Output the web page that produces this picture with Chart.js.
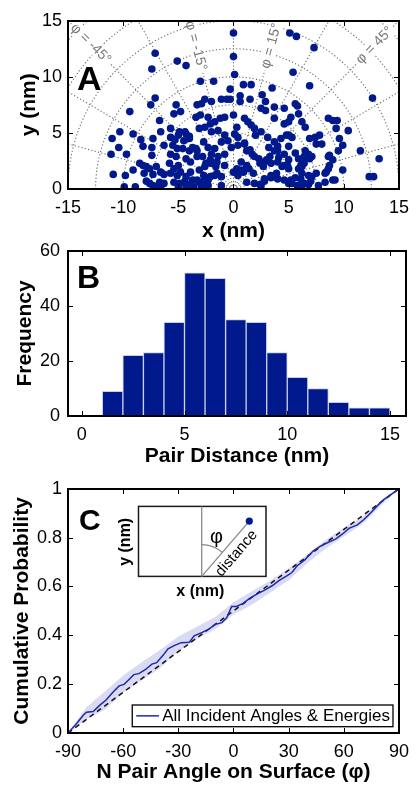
<!DOCTYPE html>
<html><head><meta charset="utf-8">
<script src="https://cdn.jsdelivr.net/npm/chart.js@4.4.1/dist/chart.umd.min.js"></script>
<style>
html,body{margin:0;padding:0;background:#fff;}
#wrap{position:relative;width:417px;height:785px;overflow:hidden;background:#fff;}
canvas{position:absolute;left:0;}
.fr{position:absolute;box-sizing:border-box;border:2px solid #000;pointer-events:none;}
.tk{position:absolute;background:#000;pointer-events:none;}
</style></head><body>
<div id="wrap">
<canvas id="cA" width="417" height="245" style="top:0px"></canvas>
<canvas id="cB" width="417" height="240" style="top:232px"></canvas>
<canvas id="cC" width="417" height="313" style="top:472px"></canvas>
</div>
<script>
// ---------- Panel A data: pair positions (nm) ----------
const topX = [0.0,5.1,5.7,7.3,-7.1,0.0,-5.1,-4.3,-7.4,0.1,5.4,-3.0,-1.8,6.9,12.6,3.5,0.9,1.6,-0.3,2.6,-1.1,-0.6,-0.3,0.6,1.5,0.6,-2.6,-2.9,2.9,3.7,-3.3,-2.0,5.6,5.8,-7.1,-7.5,-5.2];
const topY = [13.9,13.9,13.6,12.6,12.1,11.8,11.4,11.0,10.7,10.2,10.4,9.6,9.6,9.2,8.1,9.0,9.3,9.3,8.9,8.4,8.0,8.0,8.0,8.3,8.0,7.8,8.0,7.6,7.8,7.3,7.5,7.8,7.6,7.4,8.1,7.5,7.5];
const rightX = [5.2,5.9,6.2,6.5,8.6,9.0,9.4,9.3,10.4,5.0,5.3,6.9,7.4,7.8,7.5,8.0,9.6,9.9,9.5,8.7,11.5,13.2,6.5,6.8,6.4,6.9,5.9,6.1,5.9,6.2,5.0,4.9,8.7,8.6,8.4,8.3,9.9,7.5,7.1,6.8,5.6,6.1,7.7,6.8,8.3,9.0,9.2,12.3,12.7,5.8,6.2,5.3,5.0,5.6,6.4,7.1,6.2,7.0,6.4,5.2,8.6,9.0];
const rightY = [6.4,6.7,6.0,5.5,6.3,6.1,6.1,5.4,5.2,4.8,4.6,4.5,4.6,4.8,4.0,4.0,4.5,3.9,3.4,3.0,3.4,2.7,3.4,3.1,2.9,2.7,2.7,2.1,1.8,2.0,1.8,2.1,2.1,1.8,1.5,1.4,1.7,1.4,1.1,1.2,1.0,0.9,0.3,0.4,0.6,0.8,0.8,1.1,1.1,0.3,0.3,0.5,3.8,3.2,2.3,2.9,1.4,0.7,0.5,0.8,2.9,2.6];
const leftX = [-9.4,-5.4,-6.7,-6.6,-5.7,-11.0,-10.3,-9.1,-8.4,-7.3,-8.2,-10.4,-11.1,-9.7,-7.4,-7.4,-6.3,-10.9,-9.8,-9.1,-8.5,-8.2,-7.9,-7.6,-8.1,-7.0,-6.6,-6.3,-7.3,-9.9,-8.9,-7.9,-7.6,-7.3,-7.0,-6.7,-6.3,-6.6,-5.7,-5.3,-5.0,-5.5,-5.1,-5.7,-5.2,-5.8,-5.4,-5.0,-5.7,-5.1,-5.4,-5.0];
const leftY = [6.9,6.7,6.1,5.1,5.4,4.5,5.1,4.9,4.4,4.5,3.8,3.7,3.1,3.1,3.7,3.0,3.9,1.3,1.2,1.7,2.3,2.1,2.0,1.8,1.4,2.0,1.5,1.3,1.3,0.2,0.2,0.7,0.5,0.3,0.2,0.6,0.5,0.05,4.6,4.4,4.8,3.9,3.6,3.1,2.9,2.3,1.8,2.1,1.4,1.2,0.6,0.2];
const centerX = [-4.8,-3.4,-3.0,-2.3,-1.7,-2.1,-1.2,-0.8,0.0,1.0,1.3,1.6,1.9,2.5,2.9,4.6,3.7,4.6,5.0,0.3,0.1,0.4,2.0,2.5,-4.9,-4.3,-4.5,-4.0,-3.1,-2.6,-2.0,-1.4,-0.8,-0.5,-1.1,-2.7,-2.3,3.1,3.7,4.3,4.8,3.2,4.0,4.6,-3.4,-4.0,-4.6,-4.3,-3.9,-3.3,-1.7,-2.0,-1.4,-0.8,-0.2,0.4,1.0,1.2,1.7,2.3,2.8,3.4,4.0,4.6,5.0,0.7,1.2,1.4,0.3,0.9,0.0,0.4,-0.8,-1.5,-2.1,-2.6,-3.1,-3.9,-4.8,-4.3,-3.7,-3.1,-2.7,-2.3,-1.7,-1.1,-1.1,1.2,1.9,2.5,2.8,3.4,4.0,4.6,5.0,-4.9,-4.3,-3.6,-2.9,-2.3];
const centerY = [6.9,6.4,6.6,6.4,6.0,5.8,6.3,6.4,6.6,6.3,6.0,5.7,5.4,7.2,7.0,7.2,6.3,5.8,6.0,5.5,4.9,4.6,4.8,5.1,5.1,4.9,4.3,4.5,5.4,5.5,5.1,5.2,4.8,4.3,4.2,4.2,3.7,4.6,4.2,4.5,4.8,3.7,3.4,3.1,3.6,3.4,3.6,2.7,2.4,2.9,3.6,3.1,2.9,3.1,3.7,3.9,4.0,3.4,3.1,2.7,2.4,2.3,2.4,2.1,2.6,2.4,2.1,1.8,1.8,1.5,1.5,1.2,2.1,2.4,2.3,2.0,1.7,1.5,1.5,1.1,0.8,0.6,1.2,0.8,1.2,1.1,0.3,0.6,0.5,0.3,0.9,1.2,0.9,0.8,0.5,0.5,0.2,0.2,0.2,0.3];
const coreX = [-4.4,-4.0,-3.7,-3.3,-2.8,-2.5,-2.1,-1.6,-1.5,-2.1,-2.7,-3.3,-3.9,-4.4,1.0,1.5,1.9,2.4,2.7,3.0,3.3,3.7,4.0,4.1,4.4,3.9,3.4,2.8,2.4,1.8,1.2,0.7];
const coreY = [5.1,4.7,3.7,3.4,2.9,2.3,2.6,2.0,1.4,1.1,0.7,0.8,0.4,0.7,4.1,3.5,2.9,2.3,2.0,2.6,2.9,3.4,3.8,2.8,2.0,1.4,1.0,0.7,0.4,1.4,2.0,1.7];
const ticksAX = [-15,-10,-5,0,5,10,15];
const ticksAY = [0,5,10,15];
const polarRadii = [2.5,5,7.5,10,12.5,15,17.5,20,22.5];
const polarAngles = [-75,-60,-45,-30,-15,0,15,30,45,60,75];
const phiLabelAngles = [-45,-15,15,45];
const phiLabelRadii = [18.3,13.2,13.2,18.1];

// ---------- Panel B data: histogram of pair distances ----------
const binEdges = [0,1,2,3,4,5,6,7,8,9,10,11,12,13,14,15];
const binCounts = [0,9,22,23,34,52,50,35,34,23,14,10,5,3,3];
const ticksBX = [0,5,10,15];
const ticksBY = [0,20,40,60];

// ---------- Panel C data: cumulative probability of pair angle ----------
const cdfAngle = [-90,-85.2,-81.5,-79.9,-76.3,-72.8,-69.3,-65.7,-62.2,-59.5,-56.8,-54.2,-51.5,-48.0,-44.4,-41.8,-38.2,-35.6,-32.0,-28.5,-24.0,-21.4,-17.0,-13.4,-9.9,-6.3,-3.7,-1.0,1.7,5.2,8.8,13.2,16.7,21.2,24.7,29.2,31.8,34.5,38.9,43.3,46.9,51.3,55.7,59.3,62.8,67.3,70.8,74.4,77.9,81.5,85.9,90];
const cdfProb = [0,0.04,0.075,0.085,0.088,0.113,0.135,0.166,0.193,0.199,0.219,0.239,0.243,0.259,0.282,0.288,0.319,0.345,0.359,0.37,0.372,0.398,0.412,0.425,0.445,0.452,0.472,0.518,0.518,0.531,0.551,0.571,0.584,0.604,0.624,0.644,0.657,0.684,0.71,0.745,0.763,0.78,0.795,0.815,0.838,0.852,0.873,0.9,0.928,0.955,0.978,1.0];
const bandAngle = [-90,-80,-70,-60,-50,-40,-30,-20,-10,0,10,20,30,40,50,60,70,80,90];
const bandUpper = [0,0.105,0.17,0.235,0.29,0.34,0.395,0.435,0.475,0.535,0.58,0.625,0.675,0.73,0.79,0.84,0.885,0.95,1.0];
const bandLower = [0,0.055,0.095,0.165,0.215,0.265,0.335,0.385,0.425,0.485,0.525,0.575,0.625,0.695,0.755,0.805,0.855,0.93,1.0];
const uniformAngle = [-90,90];
const uniformProb = [0,1];
const ticksCX = [-90,-60,-30,0,30,60,90];
const ticksCY = [0,0.2,0.4,0.6,0.8,1];
const seriesLabel = 'All Incident Angles & Energies';

// ---------- drawing ----------
const FONT = '"Liberation Sans", Arial, Helvetica, sans-serif';
const NAVY = '#00198C';
Chart.defaults.font.family = FONT;
Chart.defaults.color = '#000';

function axis(min, max, ticks, title, o) {
  return {
    type: 'linear', min, max, offset: false,
    afterBuildTicks: s => { s.ticks = ticks.map(v => ({value: v})); },
    afterFit: s => { if (s.isHorizontal()) s.height = o.size; else s.width = o.size; },
    grid: {display: false, drawTicks: false, offset: false},
    border: {display: false},
    ticks: {color: '#000', font: {size: 18, family: FONT}, padding: o.pad, maxRotation: 0, autoSkip: false, callback: v => String(v)},
    title: {display: true, text: title, color: '#000', font: {size: 21, weight: 'bold', family: FONT, lineHeight: 1.2}, padding: o.tpad}
  };
}

// box frame + inward ticks on all four sides, drawn on the canvas from the chart's scales
function framePlugin(letter, size, dx, dy, tx, ty) {
  return {
    id: 'frame' + letter,
    afterDraw(chart) {
      const ctx = chart.ctx, a = chart.chartArea, x = chart.scales.x, y = chart.scales.y;
      const L = 5;
      const l = Math.round(a.left), t = Math.round(a.top), r = Math.round(a.right), b = Math.round(a.bottom);
      ctx.save();
      ctx.fillStyle = '#000';
      tx.forEach(v => { const p = Math.round(x.getPixelForValue(v));
        ctx.fillRect(p, b - L, 1, L); ctx.fillRect(p, t, 1, L); });
      ty.forEach(v => { const p = Math.round(y.getPixelForValue(v));
        ctx.fillRect(l, p, L, 1); ctx.fillRect(r - L, p, L, 1); });
      ctx.fillRect(l - 1, t - 1, r - l + 2, 2);
      ctx.fillRect(l - 1, b - 1, r - l + 2, 2);
      ctx.fillRect(l - 1, t - 1, 2, b - t + 2);
      ctx.fillRect(r - 1, t - 1, 2, b - t + 2);
      ctx.font = 'bold ' + size + 'px ' + FONT;
      ctx.textAlign = 'left'; ctx.textBaseline = 'alphabetic';
      ctx.fillText(letter, a.left + dx, a.top + dy);
      ctx.restore();
    }
  };
}
// same frame mirrored as page elements on top of the canvas
function addFrame(chart, canvasTop, tx, ty) {
  const a = chart.chartArea, x = chart.scales.x, y = chart.scales.y, wrap = document.getElementById('wrap');
  const L = 5;
  const mk = (cls, l, t, w, h) => { const d = document.createElement('div'); d.className = cls;
    d.style.left = l + 'px'; d.style.top = t + 'px'; d.style.width = w + 'px'; d.style.height = h + 'px'; wrap.appendChild(d); };
  tx.forEach(v => { const p = Math.round(x.getPixelForValue(v));
    mk('tk', p, canvasTop + Math.round(a.top), 1, L); mk('tk', p, canvasTop + Math.round(a.bottom) - L, 1, L); });
  ty.forEach(v => { const p = Math.round(y.getPixelForValue(v));
    mk('tk', Math.round(a.left), canvasTop + p, L, 1); mk('tk', Math.round(a.right) - L, canvasTop + p, L, 1); });
  mk('fr', Math.round(a.left) - 1, canvasTop + Math.round(a.top) - 1, Math.round(a.right) - Math.round(a.left) + 2, Math.round(a.bottom) - Math.round(a.top) + 2);
}

const polarGrid = {
  id: 'polarGrid',
  beforeDatasetsDraw(chart) {
    const {ctx, chartArea: a, scales: {x, y}} = chart;
    const ox = x.getPixelForValue(0), oy = y.getPixelForValue(0);
    const kx = x.getPixelForValue(1) - ox, ky = oy - y.getPixelForValue(1);
    ctx.save();
    ctx.beginPath(); ctx.rect(a.left, a.top, a.right - a.left, a.bottom - a.top); ctx.clip();
    ctx.strokeStyle = '#6a6a6a'; ctx.lineWidth = 1.1; ctx.setLineDash([1.2, 2.2]);
    polarRadii.forEach(r => { ctx.beginPath(); ctx.ellipse(ox, oy, r * kx, r * ky, 0, Math.PI, 2 * Math.PI); ctx.stroke(); });
    polarAngles.forEach(d => { const t = d * Math.PI / 180; ctx.beginPath(); ctx.moveTo(ox, oy);
      ctx.lineTo(ox + 30 * Math.sin(t) * kx, oy - 30 * Math.cos(t) * ky); ctx.stroke(); });
    ctx.setLineDash([]);
    ctx.font = '14px ' + FONT; ctx.textAlign = 'center'; ctx.textBaseline = 'middle';
    phiLabelAngles.forEach((d, i) => {
      const r = phiLabelRadii[i], t = d * Math.PI / 180;
      const px = ox + r * Math.sin(t) * kx, py = oy - r * Math.cos(t) * ky;
      const rot = d > 0 ? -(90 - d) : (90 + d);
      ctx.save(); ctx.translate(px, py); ctx.rotate(rot * Math.PI / 180);
      const txt = 'φ = ' + d + '°'; const w = ctx.measureText(txt).width;
      ctx.fillStyle = '#fff'; ctx.fillRect(-w / 2 - 2, -7, w + 4, 14);
      ctx.fillStyle = '#777'; ctx.fillText(txt, 0, 0); ctx.restore();
    });
    ctx.restore();
  }
};

// Panel A
const ptsA = [];
[[topX, topY], [rightX, rightY], [leftX, leftY], [centerX, centerY], [coreX, coreY]].forEach(([xs, ys]) => xs.forEach((v, i) => ptsA.push({x: v, y: ys[i]})));
const chartA = new Chart(document.getElementById('cA'), {
  type: 'scatter',
  data: {datasets: [{data: ptsA, backgroundColor: NAVY, borderColor: NAVY, borderWidth: 0, pointRadius: 3.8, clip: 0}]},
  options: {
    responsive: false, animation: false, events: [],
    layout: {padding: {top: 20.7, right: 11, left: 0, bottom: 0}},
    plugins: {legend: {display: false}, tooltip: {enabled: false}},
    scales: {
      x: axis(-15, 15, ticksAX, 'x (nm)', {size: 56, pad: 8, tpad: {top: 0, bottom: 1.4}}),
      y: axis(0, 15, ticksAY, 'y (nm)', {size: 68, pad: 6, tpad: {top: 16.4, bottom: 0}})
    }
  },
  plugins: [polarGrid, framePlugin('A', 34, 9, 69, ticksAX, ticksAY)]
});
addFrame(chartA, 0, ticksAX, ticksAY);

// Panel B
const histPts = binCounts.map((c, i) => ({x: (binEdges[i] + binEdges[i + 1]) / 2, y: c}));
const chartB = new Chart(document.getElementById('cB'), {
  type: 'bar',
  data: {datasets: [{data: histPts, backgroundColor: NAVY, borderColor: '#c9cfe6', borderWidth: 1, borderSkipped: 'bottom', barPercentage: 1, categoryPercentage: 1}]},
  options: {
    responsive: false, animation: false, events: [],
    layout: {padding: {top: 16, right: 11, left: 0, bottom: 0}},
    plugins: {legend: {display: false}, tooltip: {enabled: false}},
    scales: {
      x: axis(-0.67, 15.78, ticksBX, 'Pair Distance (nm)', {size: 56, pad: 8, tpad: {top: 0, bottom: 2.7}}),
      y: axis(0, 60, ticksBY, 'Frequency', {size: 68, pad: 8, tpad: {top: 12.9, bottom: 0}})
    }
  },
  plugins: [framePlugin('B', 32, 9, 37, ticksBX, ticksBY)]
});
addFrame(chartB, 232, ticksBX, ticksBY);

// Panel C
const insetPlugin = {
  id: 'insetPlugin',
  afterDatasetsDraw(chart) {
    const {ctx, chartArea: a} = chart;
    ctx.save();
    const ds = chart.data.datasets[0];
    ctx.font = '17px ' + FONT;
    const tw = ctx.measureText(ds.label).width;
    const bw = tw + 33, bh = 21.7;
    const bx = a.right - 6 - bw, by = a.bottom - 6.3 - bh;
    ctx.fillStyle = '#fff'; ctx.fillRect(bx, by, bw, bh);
    ctx.strokeStyle = '#000'; ctx.lineWidth = 1.3; ctx.strokeRect(bx, by, bw, bh);
    ctx.strokeStyle = ds.borderColor; ctx.lineWidth = 1.5;
    ctx.beginPath(); ctx.moveTo(bx + 4, by + bh / 2); ctx.lineTo(bx + 26.7, by + bh / 2); ctx.stroke();
    ctx.fillStyle = '#000'; ctx.textAlign = 'left'; ctx.textBaseline = 'middle';
    ctx.fillText(ds.label, bx + 30, by + bh / 2 + 0.5);
    const ix = a.left + 70.5, iy = a.top + 17.6, iw = 127.5, ih = 70;
    ctx.fillStyle = '#fff'; ctx.fillRect(ix, iy, iw, ih);
    ctx.strokeStyle = '#1a1a1a'; ctx.lineWidth = 1.5; ctx.strokeRect(ix, iy, iw, ih);
    const ox = a.left + 133.7, oy = iy + ih;
    const ex = a.left + 181.3, ey = a.top + 32.3;
    ctx.strokeStyle = '#8a8a8a'; ctx.lineWidth = 1.3;
    ctx.beginPath(); ctx.moveTo(ox, iy); ctx.lineTo(ox, oy); ctx.stroke();
    ctx.beginPath(); ctx.moveTo(ox, oy); ctx.lineTo(ex, ey); ctx.stroke();
    const ang = Math.atan2(ey - oy, ex - ox);
    ctx.beginPath(); ctx.arc(ox, oy, 31.7, -Math.PI / 2, ang); ctx.stroke();
    ctx.fillStyle = NAVY; ctx.beginPath(); ctx.arc(ex, ey, 3.6, 0, 2 * Math.PI); ctx.fill();
    ctx.fillStyle = '#000'; ctx.textAlign = 'center'; ctx.textBaseline = 'middle';
    ctx.font = '20px ' + FONT; ctx.fillText('φ', a.left + 148.5, a.top + 48.8);
    ctx.save(); ctx.translate(a.left + 168.5, a.top + 64.5); ctx.rotate(ang);
    ctx.font = '15px ' + FONT; ctx.fillText('distance', 0, 0); ctx.restore();
    ctx.font = 'bold 16px ' + FONT;
    ctx.fillText('x (nm)', a.left + 132.3, a.top + 102.3);
    ctx.save(); ctx.translate(a.left + 58, a.top + 53); ctx.rotate(-Math.PI / 2);
    ctx.fillText('y (nm)', 0, 0); ctx.restore();
    ctx.restore();
  }
};
const chartC = new Chart(document.getElementById('cC'), {
  type: 'line',
  data: {datasets: [
    {label: seriesLabel, data: cdfAngle.map((v, i) => ({x: v, y: cdfProb[i]})), borderColor: '#1c2ba6', borderWidth: 1.5, pointRadius: 0, tension: 0, fill: false, order: 0},
    {label: 'uniform', data: uniformAngle.map((v, i) => ({x: v, y: uniformProb[i]})), borderColor: '#111', borderWidth: 1.5, borderDash: [5, 4], pointRadius: 0, fill: false, order: 1},
    {label: 'upper', data: bandAngle.map((v, i) => ({x: v, y: bandUpper[i]})), borderWidth: 0, pointRadius: 0, backgroundColor: 'rgba(205,205,240,0.75)', fill: '+1', order: 2},
    {label: 'lower', data: bandAngle.map((v, i) => ({x: v, y: bandLower[i]})), borderWidth: 0, pointRadius: 0, fill: false, order: 3}
  ]},
  options: {
    responsive: false, animation: false, events: [],
    layout: {padding: {top: 9.7, right: 11, left: 0, bottom: 0}},
    plugins: {legend: {display: false}, tooltip: {enabled: false}},
    scales: {
      x: axis(-90, 90, ticksCX, 'N Pair Angle on Surface (φ)', {size: 52, pad: 8, tpad: {top: 0, bottom: 0}}),
      y: axis(0, 1, ticksCY, 'Cumulative Probability', {size: 68, pad: 6, tpad: {top: 9.9, bottom: 0}})
    }
  },
  plugins: [insetPlugin, framePlugin('C', 30, 11, 41, ticksCX, ticksCY)]
});
addFrame(chartC, 472, ticksCX, ticksCY);
</script>
</body></html>
